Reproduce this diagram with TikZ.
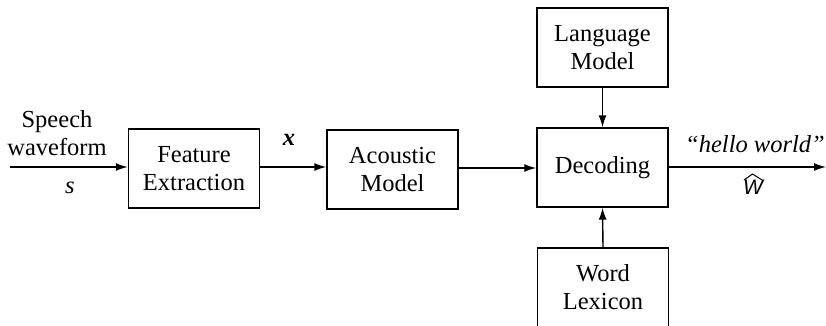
\documentclass[tikz,border=0pt]{standalone}
\usepackage{fontspec}
\setmainfont{Liberation Serif}
\newfontfamily\wsans{Liberation Sans}
\usetikzlibrary{arrows.meta}
\begin{document}
\begin{tikzpicture}[x=1pt,y=-1pt,
  blk/.style={draw,line width=1.4pt,minimum width=131pt,minimum height=79pt,inner sep=0pt,align=center,
    font=\fontsize{24.5}{28}\selectfont},
  lbl/.style={inner sep=0pt,align=center,font=\fontsize{24.5}{28}\selectfont},
  conn/.style={line width=1.4pt,-{Latex[length=12pt,width=8pt]}}]
\useasboundingbox (0,0) rectangle (826,326);
\node[blk] (fe) at (194,168.5) {Feature\\Extraction};
\node[blk] (am) at (392.5,169.5) {Acoustic\\Model};
\node[blk] (dec) at (602.5,167.5) {Decoding};
\node[blk] (lm) at (602.5,47.5) {Language\\Model};
\node[blk,minimum height=82pt] (wl) at (603,289) {};
\node[lbl] (wlt) at (603,287) {Word\\Lexicon};
\coordinate (in) at (10,167);
\coordinate (out) at (826,167);
\draw[conn] (in) -- (fe.west |- in);
\draw[conn] (fe.east |- 0,167) -- (am.west |- 0,167);
\draw[conn] (am.east |- 0,168) -- (dec.west |- 0,168);
\draw[conn] (dec.east |- out) -- (out);
\draw[conn] (lm.south) -- (dec.north);
\draw[conn] (wl.north) -- (dec.south);
\node[lbl] (sw) at (57,133) {Speech\\waveform};
\node[lbl] (s) at (70,188) {\itshape s};
\node[lbl] (x) at (289,140) {\bfseries\itshape x};
\node[lbl] (hw) at (755,144) {\itshape ``hello world''};
\node[inner sep=0pt,font=\fontsize{21}{24}\selectfont\wsans\itshape] (w) at (753,187.5) {W};
\draw[line width=1pt] (744,180) -- (752.5,174) -- (762,180);
\end{tikzpicture}
\end{document}
